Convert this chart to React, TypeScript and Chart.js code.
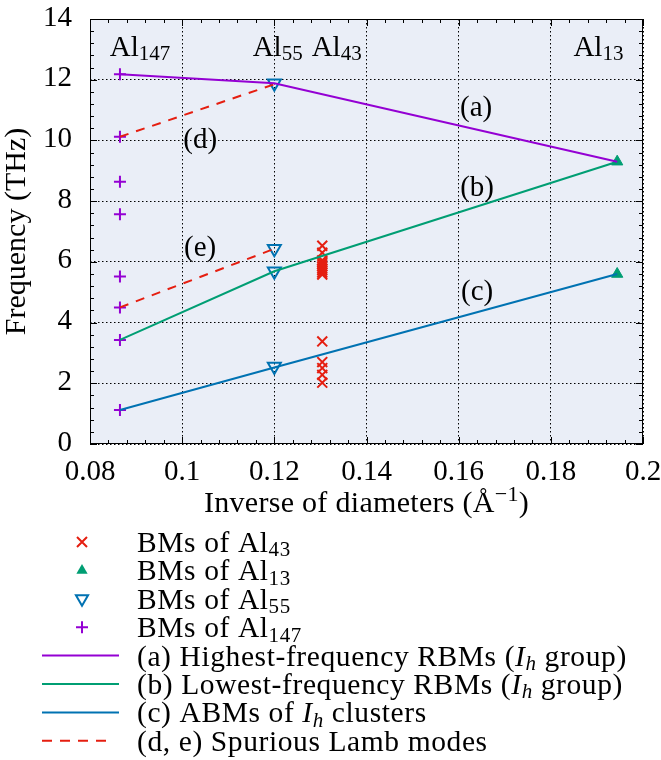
import React, { useEffect, useRef } from 'react';
import { Chart, registerables } from 'chart.js';

Chart.register(...registerables);

// ---------------- data ----------------
const xAl147 = 0.0865;
const xAl55 = 0.12;
const xAl43 = 0.1304;
const xAl13 = 0.1944;

const al43Freqs = [6.53, 6.3, 6.05, 5.98, 5.92, 5.85, 5.78, 5.72, 5.65, 5.58, 3.38, 2.7, 2.5, 2.28, 2.02];
const al13Freqs = [9.3, 5.6];
const al55Freqs = [11.88, 6.43, 5.69, 2.55];
const al147Freqs = [12.18, 10.12, 8.64, 7.57, 5.52, 4.5, 3.43, 1.12];

const lineX = [xAl147, xAl55, xAl13];
const lineA = [12.18, 11.88, 9.3];
const lineB = [3.43, 5.69, 9.3];
const lineC = [1.12, 2.52, 5.6];
const lambX = [xAl147, xAl55];
const lambD = [10.12, 11.85];
const lambE = [4.5, 6.43];

const xTickValues = [0.08, 0.1, 0.12, 0.14, 0.16, 0.18, 0.2];
const xTickLabels = ['0.08', '0.1', '0.12', '0.14', '0.16', '0.18', '0.2'];
const yTickValues = [0, 2, 4, 6, 8, 10, 12, 14];
const yTickLabels = ['0', '2', '4', '6', '8', '10', '12', '14'];

// ---------------- styles ----------------
const FONT = '"Liberation Serif", "Times New Roman", serif';
const PURPLE = '#9400d3';
const GREEN = '#009e73';
const BLUE = '#0072b2';
const RED = '#e51e10';
const PLOT_BG = '#eaeef7';
const MAIN = 29;

type Seg = { t: string; sub?: boolean; sup?: boolean; it?: boolean };

const clusterLabels: { segs: Seg[]; x: number; y: number }[] = [
  { segs: [{ t: 'Al' }, { t: '147', sub: true }], x: 0.0843, y: 12.78 },
  { segs: [{ t: 'Al' }, { t: '55', sub: true }], x: 0.1153, y: 12.78 },
  { segs: [{ t: 'Al' }, { t: '43', sub: true }], x: 0.1281, y: 12.78 },
  { segs: [{ t: 'Al' }, { t: '13', sub: true }], x: 0.1849, y: 12.78 },
];
const curveLabels = [
  { t: '(a)', x: 0.1638, y: 11.04 },
  { t: '(b)', x: 0.164, y: 8.43 },
  { t: '(c)', x: 0.164, y: 5.01 },
  { t: '(d)', x: 0.1039, y: 10.01 },
  { t: '(e)', x: 0.1039, y: 6.46 },
];

const legendEntries: { kind: string; color: string; segs: Seg[] }[] = [
  { kind: 'x', color: RED, segs: [{ t: 'BMs of Al' }, { t: '43', sub: true }] },
  { kind: 'tri', color: GREEN, segs: [{ t: 'BMs of Al' }, { t: '13', sub: true }] },
  { kind: 'dtri', color: BLUE, segs: [{ t: 'BMs of Al' }, { t: '55', sub: true }] },
  { kind: 'plus', color: PURPLE, segs: [{ t: 'BMs of Al' }, { t: '147', sub: true }] },
  { kind: 'line', color: PURPLE, segs: [{ t: '(a) Highest-frequency RBMs (' }, { t: 'I', it: true }, { t: 'h', it: true, sub: true }, { t: ' group)' }] },
  { kind: 'line', color: GREEN, segs: [{ t: '(b) Lowest-frequency RBMs (' }, { t: 'I', it: true }, { t: 'h', it: true, sub: true }, { t: ' group)' }] },
  { kind: 'line', color: BLUE, segs: [{ t: '(c) ABMs of ' }, { t: 'I', it: true }, { t: 'h', it: true, sub: true }, { t: ' clusters' }] },
  { kind: 'dash', color: RED, segs: [{ t: '(d, e) Spurious Lamb modes' }] },
];

function segFont(s: Seg, size: number) {
  const sz = s.sub || s.sup ? Math.round(size * 0.72) : size;
  return `${s.it ? 'italic ' : ''}${sz}px ${FONT}`;
}

function drawRich(ctx: CanvasRenderingContext2D, segs: Seg[], x: number, y: number, size: number, align: 'left' | 'center' = 'left', spacing = 0) {
  const c: any = ctx;
  const prevLS = c.letterSpacing;
  if (spacing && 'letterSpacing' in c) c.letterSpacing = `${spacing}px`;
  ctx.textBaseline = 'alphabetic';
  ctx.textAlign = 'left';
  let w = 0;
  for (const s of segs) {
    ctx.font = segFont(s, size);
    w += ctx.measureText(s.t).width;
  }
  let cx = align === 'center' ? x - w / 2 : x;
  for (const s of segs) {
    ctx.font = segFont(s, size);
    const dy = s.sub ? size * 0.15 : s.sup ? -size * 0.38 : 0;
    ctx.fillText(s.t, cx, y + dy);
    cx += ctx.measureText(s.t).width;
  }
  if (spacing && 'letterSpacing' in c) c.letterSpacing = prevLS || '0px';
}

const pts = (xv: number, ys: number[]) => ys.map((y) => ({ x: xv, y }));
const pairs = (xs: number[], ys: number[]) => xs.map((x, i) => ({ x, y: ys[i] }));

const decorPlugin = {
  id: 'decor',
  beforeDraw(chart: any) {
    const { ctx, chartArea: a } = chart;
    ctx.save();
    ctx.fillStyle = '#ffffff';
    ctx.fillRect(0, 0, chart.width, chart.height);
    ctx.fillStyle = PLOT_BG;
    ctx.fillRect(a.left, a.top, a.right - a.left, a.bottom - a.top);
    ctx.restore();
  },
  afterDraw(chart: any) {
    const { ctx, chartArea: a } = chart;
    const xs = chart.scales.x;
    const ys = chart.scales.y;
    ctx.save();
    // inward ticks
    ctx.strokeStyle = '#000';
    ctx.lineWidth = 1;
    ctx.beginPath();
    for (let i = 0; i <= 30; i++) {
      const v = 0.08 + i * 0.004;
      const len = i % 5 === 0 ? 7 : 4;
      const px = Math.round(xs.getPixelForValue(v)) + 0.5;
      ctx.moveTo(px, a.bottom);
      ctx.lineTo(px, a.bottom - len);
      ctx.moveTo(px, a.top);
      ctx.lineTo(px, a.top + len);
    }
    for (let i = 0; i <= 35; i++) {
      const v = i * 0.4;
      const len = i % 5 === 0 ? 7 : 4;
      const py = Math.round(ys.getPixelForValue(v)) + 0.5;
      ctx.moveTo(a.left, py);
      ctx.lineTo(a.left + len, py);
      ctx.moveTo(a.right, py);
      ctx.lineTo(a.right - len, py);
    }
    ctx.stroke();
    ctx.strokeRect(a.left + 0.5, a.top + 0.5, a.right - a.left - 1, a.bottom - a.top - 1);

    ctx.fillStyle = '#000';
    // tick labels
    ctx.font = `${MAIN}px ${FONT}`;
    ctx.textAlign = 'center';
    ctx.textBaseline = 'alphabetic';
    xTickValues.forEach((v, i) => {
      ctx.fillText(xTickLabels[i], xs.getPixelForValue(v), a.bottom + 36);
    });
    ctx.textAlign = 'right';
    ctx.textBaseline = 'middle';
    yTickValues.forEach((v, i) => {
      ctx.fillText(yTickLabels[i], a.left - 18, ys.getPixelForValue(v) - 1);
    });

    // axis titles
    drawRich(ctx, [{ t: 'Inverse of diameters (\u00C5' }, { t: '\u22121', sup: true }, { t: ')' }], (a.left + a.right) / 2, a.bottom + 68, 30, 'center', 0.3);
    ctx.save();
    ctx.translate(17, (a.top + a.bottom) / 2);
    ctx.rotate(-Math.PI / 2);
    ctx.font = `30px ${FONT}`;
    ctx.textAlign = 'center';
    ctx.textBaseline = 'middle';
    ctx.fillText('Frequency (THz)', 0, 0);
    ctx.restore();

    // annotations
    for (const l of clusterLabels) {
      drawRich(ctx, l.segs, xs.getPixelForValue(l.x), ys.getPixelForValue(l.y), MAIN, 'left');
    }
    ctx.font = `${MAIN}px ${FONT}`;
    ctx.textAlign = 'center';
    ctx.textBaseline = 'middle';
    for (const l of curveLabels) {
      ctx.fillText(l.t, xs.getPixelForValue(l.x), ys.getPixelForValue(l.y));
    }

    // legend
    const baseY = a.bottom + 108;
    const step = 28.4;
    legendEntries.forEach((e, i) => {
      const by = baseY + i * step;
      const cy = by - 10;
      const sx = 82;
      ctx.save();
      ctx.strokeStyle = e.color;
      ctx.fillStyle = e.color;
      ctx.lineWidth = 2;
      ctx.beginPath();
      if (e.kind === 'x') {
        ctx.moveTo(sx - 5, cy - 5); ctx.lineTo(sx + 5, cy + 5);
        ctx.moveTo(sx - 5, cy + 5); ctx.lineTo(sx + 5, cy - 5);
        ctx.stroke();
      } else if (e.kind === 'plus') {
        ctx.moveTo(sx - 6, cy); ctx.lineTo(sx + 6, cy);
        ctx.moveTo(sx, cy - 6); ctx.lineTo(sx, cy + 6);
        ctx.stroke();
      } else if (e.kind === 'tri') {
        const r = 6.5;
        ctx.moveTo(sx, cy - r);
        ctx.lineTo(sx + r * 0.866, cy + r * 0.5);
        ctx.lineTo(sx - r * 0.866, cy + r * 0.5);
        ctx.closePath();
        ctx.fill();
      } else if (e.kind === 'dtri') {
        const r = 7;
        ctx.moveTo(sx, cy + r);
        ctx.lineTo(sx + r * 0.866, cy - r * 0.5);
        ctx.lineTo(sx - r * 0.866, cy - r * 0.5);
        ctx.closePath();
        ctx.stroke();
      } else if (e.kind === 'line') {
        ctx.moveTo(42, cy); ctx.lineTo(119, cy);
        ctx.stroke();
      } else if (e.kind === 'dash') {
        ctx.setLineDash([10, 8]);
        ctx.moveTo(42, cy); ctx.lineTo(112, cy);
        ctx.stroke();
      }
      ctx.restore();
      ctx.fillStyle = '#000';
      drawRich(ctx, e.segs, 137, by, 29.5, 'left', 0.6);
    });
    ctx.restore();
  },
};

export default function App() {
  const ref = useRef<HTMLCanvasElement | null>(null);
  useEffect(() => {
    document.body.style.margin = '0';
    const canvas = ref.current;
    if (!canvas) return;
    const pointBase = { showLine: false, order: 1 };
    const lineBase = { showLine: true, pointRadius: 0, borderWidth: 2, order: 0, fill: false, tension: 0 };
    const chart = new Chart(canvas, {
      type: 'scatter',
      data: {
        datasets: [
          { ...pointBase, label: 'BMs of Al43', data: pts(xAl43, al43Freqs), pointStyle: 'crossRot', pointRadius: 7, borderColor: RED, backgroundColor: RED, borderWidth: 2 },
          { ...pointBase, label: 'BMs of Al13', data: pts(xAl13, al13Freqs), pointStyle: 'triangle', pointRadius: 6.5, borderColor: GREEN, backgroundColor: GREEN, borderWidth: 1 },
          { ...pointBase, label: 'BMs of Al55', data: pts(xAl55, al55Freqs), pointStyle: 'triangle', pointRotation: 180, pointRadius: 7.5, borderColor: BLUE, backgroundColor: 'rgba(0,0,0,0)', borderWidth: 2 },
          { ...pointBase, label: 'BMs of Al147', data: pts(xAl147, al147Freqs), pointStyle: 'cross', pointRadius: 6, borderColor: PURPLE, backgroundColor: PURPLE, borderWidth: 2 },
          { ...lineBase, label: '(a)', data: pairs(lineX, lineA), borderColor: PURPLE },
          { ...lineBase, label: '(b)', data: pairs(lineX, lineB), borderColor: GREEN },
          { ...lineBase, label: '(c)', data: pairs(lineX, lineC), borderColor: BLUE },
          { ...lineBase, label: '(d)', data: pairs(lambX, lambD), borderColor: RED, borderDash: [9, 8] },
          { ...lineBase, label: '(e)', data: pairs(lambX, lambE), borderColor: RED, borderDash: [9, 8] },
        ] as any,
      },
      options: {
        animation: false,
        responsive: false,
        devicePixelRatio: 1,
        layout: { padding: { left: 0, right: 18, top: 19, bottom: 0 } },
        plugins: { legend: { display: false }, tooltip: { enabled: false } },
        scales: {
          x: {
            type: 'linear',
            min: 0.08,
            max: 0.2,
            afterFit: (s: any) => { s.height = 316; },
            afterBuildTicks: (s: any) => { s.ticks = xTickValues.map((v) => ({ value: v })); },
            ticks: { display: false },
            grid: { color: '#000', lineWidth: 1, drawTicks: false },
            border: { display: false, dash: [1.5, 2.5] },
          },
          y: {
            type: 'linear',
            min: 0,
            max: 14,
            afterFit: (s: any) => { s.width = 90; },
            afterBuildTicks: (s: any) => { s.ticks = yTickValues.map((v) => ({ value: v })); },
            ticks: { display: false },
            grid: { color: '#000', lineWidth: 1, drawTicks: false },
            border: { display: false, dash: [1.5, 2.5] },
          },
        },
      } as any,
      plugins: [decorPlugin],
    });
    return () => chart.destroy();
  }, []);
  return <canvas ref={ref} width={661} height={760} style={{ display: 'block', width: 661, height: 760 }} />;
}
